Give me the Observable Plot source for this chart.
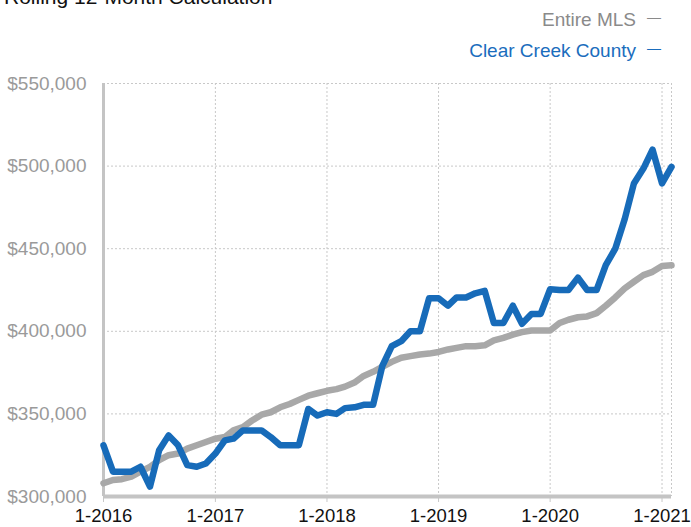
<!DOCTYPE html>
<html>
<head>
<meta charset="utf-8">
<script src="https://cdn.jsdelivr.net/npm/d3@7"></script>
<script src="https://cdn.jsdelivr.net/npm/@observablehq/plot@0.6"></script>
<style>
  html, body { margin: 0; padding: 0; background: #fff; overflow: hidden; }
  #wrap { position: relative; width: 691px; height: 527px; font-family: "Liberation Sans", Arial, sans-serif; }
  #header { position: relative; height: 70px; overflow: hidden; }
  #title { position: absolute; left: 4px; top: -13px; font-size: 21px; line-height: 20px; color: #111; white-space: nowrap; }
  .leg { position: absolute; right: 30px; font-size: 19px; line-height: 20px; white-space: nowrap; }
  .leg .dash { margin-left: 11px; font-size: 14px; position: relative; top: -4px; }
  #leg1 { top: 10px; color: #8a8a8a; }
  #leg2 { top: 41px; color: #1a6dbd; }
  #chart svg { display: block; }
</style>
</head>
<body>
<div id="wrap">
  <div id="header">
    <div id="title">Rolling 12-Month Calculation</div>
    <div class="leg" id="leg1">Entire MLS<span class="dash">—</span></div>
    <div class="leg" id="leg2">Clear Creek County<span class="dash">—</span></div>
  </div>
  <div id="chart"></div>
</div>
<script>
// Monthly series, Jan 2016 .. Feb 2021 (values in $)
const startYear = 2016;
const monthCount = 62;
const clearCreek = [
  331, 315, 315, 315, 318, 306, 328, 337, 331, 319, 318, 320,
  326, 334, 335, 340, 340, 340, 336, 331, 331, 331, 353, 349,
  351, 350, 353.5, 354, 355.5, 355.5, 379, 391, 394, 400, 400, 420,
  420, 415.5, 420.5, 420.5, 423, 424.5, 405, 405, 415.5, 404.5, 410.5, 410.5,
  425.5, 425, 425, 432.5, 425, 425, 440, 450, 468, 489.5, 498.5, 510,
  489.5, 499.5
].map(v => v * 1000);
const entireMLS = [
  308, 310, 310.5, 312, 315, 318, 322, 325, 326, 329, 331, 333,
  335, 336, 340, 342, 346, 349.5, 351, 354, 356, 358.5, 361, 362.5,
  364, 365, 366.5, 369, 373, 375.5, 378.5, 381.5, 384, 385, 386, 386.5,
  387.5, 389, 390, 391, 391, 391.5, 394.5, 396, 398, 399.5, 400.5, 400.5,
  400.5, 405, 407, 408.5, 409, 411, 415.5, 420.5, 426, 430, 434, 436,
  439.5, 440
].map(v => v * 1000);
const yTicks = [300000, 350000, 400000, 450000, 500000, 550000];
const xTickYears = [2016, 2017, 2018, 2019, 2020, 2021];

const months = Array.from({length: monthCount}, (_, i) => new Date(Date.UTC(startYear, i, 1)));
const ccData = months.map((d, i) => ({date: d, value: clearCreek[i]}));
const mlsData = months.map((d, i) => ({date: d, value: entireMLS[i]}));
const xTicks = xTickYears.map(y => new Date(Date.UTC(y, 0, 1)));
const xStart = months[0], xEnd = months[months.length - 1];
const fmtMoney = d => "$" + d3.format(",")(d);

const chart = Plot.plot({
  width: 691,
  height: 457,
  marginTop: 13,
  marginBottom: 31,
  marginLeft: 103,
  marginRight: 20,
  style: { fontFamily: "'Liberation Sans', Arial, sans-serif", background: "#fff", overflow: "visible" },
  x: { type: "utc", domain: [xStart, xEnd], label: null },
  y: { domain: [300000, 550000], label: null },
  marks: [
    Plot.gridY(yTicks, { stroke: "#c8c8c8", strokeOpacity: 1, strokeWidth: 1, strokeDasharray: "2,2" }),
    Plot.gridX(xTicks, { stroke: "#c8c8c8", strokeOpacity: 1, strokeWidth: 1, strokeDasharray: "2,2" }),
    Plot.ruleX([xEnd], { stroke: "#c8c8c8", strokeWidth: 1, strokeDasharray: "2,2" }),
    Plot.axisY(yTicks, { tickSize: 0, tickPadding: 17, fontSize: 19, fill: "#9a9a9a", tickFormat: fmtMoney, label: null }),
    Plot.axisX(xTicks, { tickSize: 6, tickPadding: 6, fontSize: 18.5, fill: "#111", stroke: "#c8c8c8", tickFormat: d => "1-" + d.getUTCFullYear(), label: null }),
    Plot.ruleY([300000], { stroke: "#c4c4c4", strokeWidth: 4 }),
    Plot.ruleX([xStart], { stroke: "#c4c4c4", strokeWidth: 3 }),
    Plot.line(mlsData, { x: "date", y: "value", stroke: "#a8a8a8", strokeWidth: 6.5, strokeLinejoin: "round" }),
    Plot.line(ccData, { x: "date", y: "value", stroke: "#176bb9", strokeWidth: 6.5, strokeLinejoin: "round" })
  ]
});
document.getElementById("chart").appendChild(chart);
</script>
</body>
</html>
